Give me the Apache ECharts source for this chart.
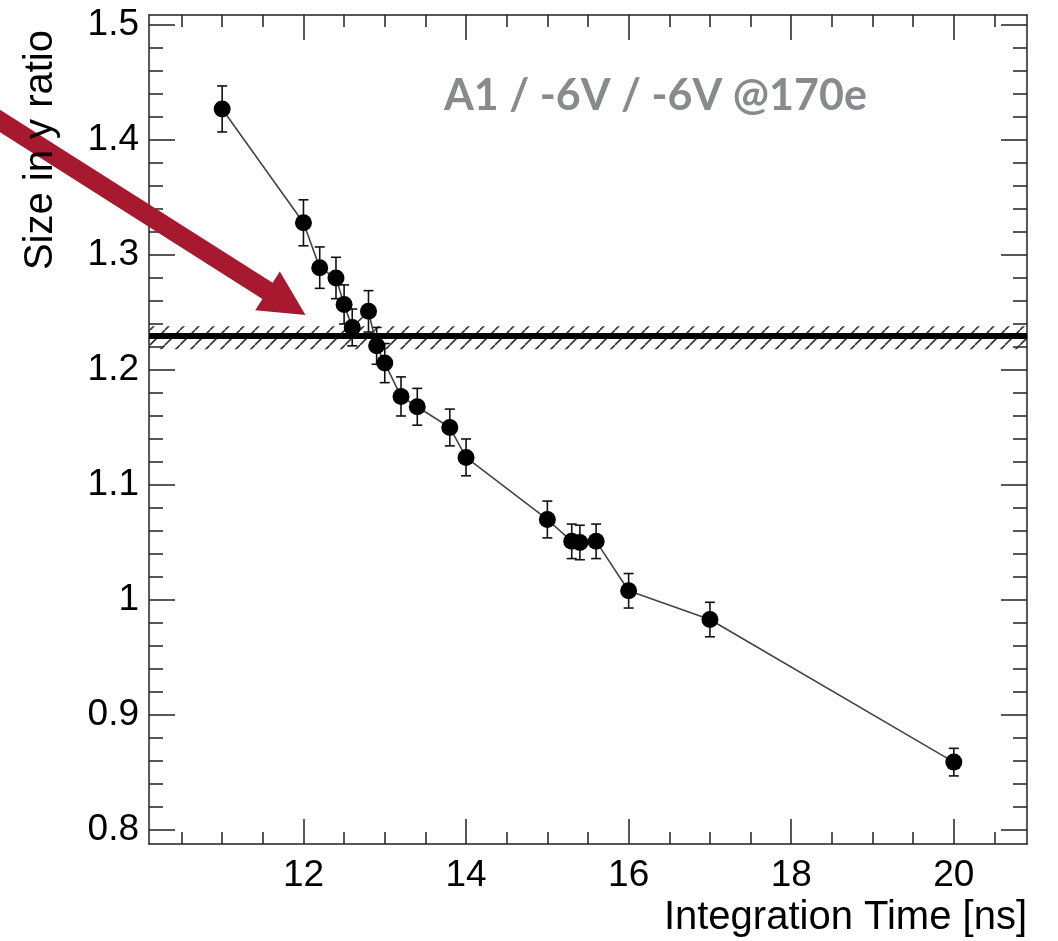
<!DOCTYPE html>
<html>
<head>
<meta charset="utf-8">
<script src="https://cdn.jsdelivr.net/npm/echarts@6/dist/echarts.min.js"></script>
<style>
html,body{margin:0;padding:0;background:#ffffff;}
#chart{width:1058px;height:941px;}
</style>
</head>
<body>
<div id="chart"></div>
<script>
// ---------------- data ----------------
const integrationTime = [11, 12, 12.2, 12.4, 12.5, 12.6, 12.8, 12.9, 13.0, 13.2, 13.4, 13.8, 14, 15, 15.3, 15.4, 15.6, 16, 17, 20];
const sizeRatio       = [1.427, 1.328, 1.289, 1.280, 1.257, 1.237, 1.251, 1.221, 1.206, 1.177, 1.168, 1.150, 1.124, 1.070, 1.051, 1.050, 1.051, 1.008, 0.983, 0.859];
const sizeError       = [0.020, 0.020, 0.018, 0.018, 0.017, 0.016, 0.018, 0.016, 0.017, 0.017, 0.016, 0.016, 0.016, 0.016, 0.015, 0.015, 0.015, 0.015, 0.015, 0.012];

const referenceLevel = 1.228;
const referenceBand  = [1.218, 1.238];

const xRange = [10.1, 20.9];
const yRange = [0.7878, 1.5087];

const xMajorTicks = [12, 14, 16, 18, 20];
const xMinorTicks = [10.5, 11, 11.5, 12.5, 13, 13.5, 14.5, 15, 15.5, 16.5, 17, 17.5, 18.5, 19, 19.5, 20.5];
const yMajorTicks = [0.8, 0.9, 1, 1.1, 1.2, 1.3, 1.4, 1.5];
const yMinorTicks = [0.82, 0.84, 0.86, 0.88, 0.92, 0.94, 0.96, 0.98, 1.02, 1.04, 1.06, 1.08,
                     1.12, 1.14, 1.16, 1.18, 1.22, 1.24, 1.26, 1.28, 1.32, 1.34, 1.36, 1.38,
                     1.42, 1.44, 1.46, 1.48];

const titleText = 'A1 / -6V / -6V @170e';
const xTitle = 'Integration Time [ns]';
const yTitle = 'Size in y ratio';

// ---------------- styling helpers ----------------
const AXIS_COLOR = '#222';
const LABEL_FONT = '"Liberation Sans", Arial, Helvetica, sans-serif';

function hatchPattern() {
  const c = document.createElement('canvas');
  c.width = 15; c.height = 15;
  const g = c.getContext('2d');
  g.strokeStyle = '#333';
  g.lineWidth = 1.6;
  g.beginPath();
  for (const o of [-15, 0, 15]) { g.moveTo(o, 15); g.lineTo(o + 15, 0); }
  g.stroke();
  return c;
}

function arrowPoints(S, T, shaftHalf, headLen, headHalf) {
  const dx = T[0] - S[0], dy = T[1] - S[1];
  const L = Math.hypot(dx, dy);
  const u = [dx / L, dy / L];
  const n = [-u[1], u[0]];
  const B = [T[0] - u[0] * headLen, T[1] - u[1] * headLen];
  const p = (P, k) => [P[0] + n[0] * k, P[1] + n[1] * k];
  return [p(S, -shaftHalf), p(B, -shaftHalf), p(B, -headHalf), T, p(B, headHalf), p(B, shaftHalf), p(S, shaftHalf)];
}

function xAxisDef(position, ticks, len, showLabels, showLine) {
  return {
    type: 'value', min: xRange[0], max: xRange[1], position: position,
    axisLine: { show: showLine, onZero: false, lineStyle: { color: AXIS_COLOR, width: 1.5 } },
    axisTick: { show: true, inside: true, length: len, customValues: ticks, lineStyle: { color: AXIS_COLOR, width: 1.5 } },
    axisLabel: showLabels ? { show: true, customValues: ticks, margin: 13, color: '#000', fontSize: 37, fontFamily: LABEL_FONT } : { show: false },
    splitLine: { show: false }
  };
}
function yAxisDef(position, ticks, len, showLabels, showLine) {
  return {
    type: 'value', min: yRange[0], max: yRange[1], position: position,
    axisLine: { show: showLine, onZero: false, lineStyle: { color: AXIS_COLOR, width: 1.5 } },
    axisTick: { show: true, inside: true, length: len, customValues: ticks, lineStyle: { color: AXIS_COLOR, width: 1.5 } },
    axisLabel: showLabels ? { show: true, customValues: ticks, margin: 10, color: '#000', fontSize: 37, fontFamily: LABEL_FONT, padding: [8, 0, 0, 0] } : { show: false },
    splitLine: { show: false }
  };
}

const points = integrationTime.map((t, i) => [t, sizeRatio[i]]);
const errorBars = integrationTime.map((t, i) => [t, sizeRatio[i] - sizeError[i], sizeRatio[i] + sizeError[i]]);

const chart = echarts.init(document.getElementById('chart'), null, { renderer: 'canvas' });

chart.setOption({
  animation: false,
  backgroundColor: '#ffffff',
  grid: { left: 149, top: 15, right: 31, bottom: 97, containLabel: false },
  xAxis: [
    xAxisDef('bottom', xMajorTicks, 25, true, true),
    xAxisDef('bottom', xMinorTicks, 12, false, false),
    xAxisDef('top', xMajorTicks, 25, false, true),
    xAxisDef('top', xMinorTicks, 12, false, false)
  ],
  yAxis: [
    yAxisDef('left', yMajorTicks, 26, true, true),
    yAxisDef('left', yMinorTicks, 14, false, false),
    yAxisDef('right', yMajorTicks, 26, false, true),
    yAxisDef('right', yMinorTicks, 14, false, false)
  ],
  graphic: [
    {
      type: 'polygon', z: 100,
      shape: { points: arrowPoints([-10, 114.7], [305.5, 315], 9.5, 45, 23) },
      style: { fill: '#a6192e' }
    },
    {
      type: 'text', x: 444, y: 96, z: 100,
      style: { text: titleText, fill: '#888b8b', font: 'bold 43px Lato, "Open Sans", sans-serif', align: 'left', verticalAlign: 'middle', textAlign: 'left', textVerticalAlign: 'middle' }
    },
    {
      type: 'text', x: 1027, y: 918, z: 100,
      style: { text: xTitle, fill: '#000', font: '40px ' + LABEL_FONT, align: 'right', verticalAlign: 'middle', textAlign: 'right', textVerticalAlign: 'middle' }
    },
    {
      type: 'text', x: 41, y: 30, rotation: Math.PI / 2, z: 100,
      style: { text: yTitle, fill: '#000', font: '40px ' + LABEL_FONT, align: 'right', verticalAlign: 'middle', textAlign: 'right', textVerticalAlign: 'middle' }
    }
  ],
  series: [
    {
      name: 'errors', type: 'custom', xAxisIndex: 0, yAxisIndex: 0, z: 2,
      data: errorBars,
      encode: { x: 0, y: [1, 2] },
      renderItem: function (params, api) {
        const x = api.value(0);
        const top = api.coord([x, api.value(2)]);
        const bot = api.coord([x, api.value(1)]);
        const cap = 5;
        const st = { stroke: '#111', lineWidth: 1.6 };
        return {
          type: 'group',
          children: [
            { type: 'line', shape: { x1: top[0], y1: top[1], x2: bot[0], y2: bot[1] }, style: st },
            { type: 'line', shape: { x1: top[0] - cap, y1: top[1], x2: top[0] + cap, y2: top[1] }, style: st },
            { type: 'line', shape: { x1: bot[0] - cap, y1: bot[1], x2: bot[0] + cap, y2: bot[1] }, style: st }
          ]
        };
      },
      markArea: {
        silent: true,
        itemStyle: { color: { image: hatchPattern(), repeat: 'repeat' }, borderWidth: 0 },
        data: [[{ yAxis: referenceBand[0] }, { yAxis: referenceBand[1] }]]
      },
      markLine: {
        silent: true,
        symbol: 'none',
        label: { show: false },
        lineStyle: { color: '#000', width: 6, type: 'solid' },
        data: [{ yAxis: referenceLevel }]
      }
    },
    {
      name: 'Size in y ratio', type: 'line', xAxisIndex: 0, yAxisIndex: 0, z: 3,
      data: points,
      symbol: 'circle', symbolSize: 17,
      itemStyle: { color: '#000' },
      lineStyle: { color: '#444', width: 1.6 }
    }
  ]
});
</script>
</body>
</html>
